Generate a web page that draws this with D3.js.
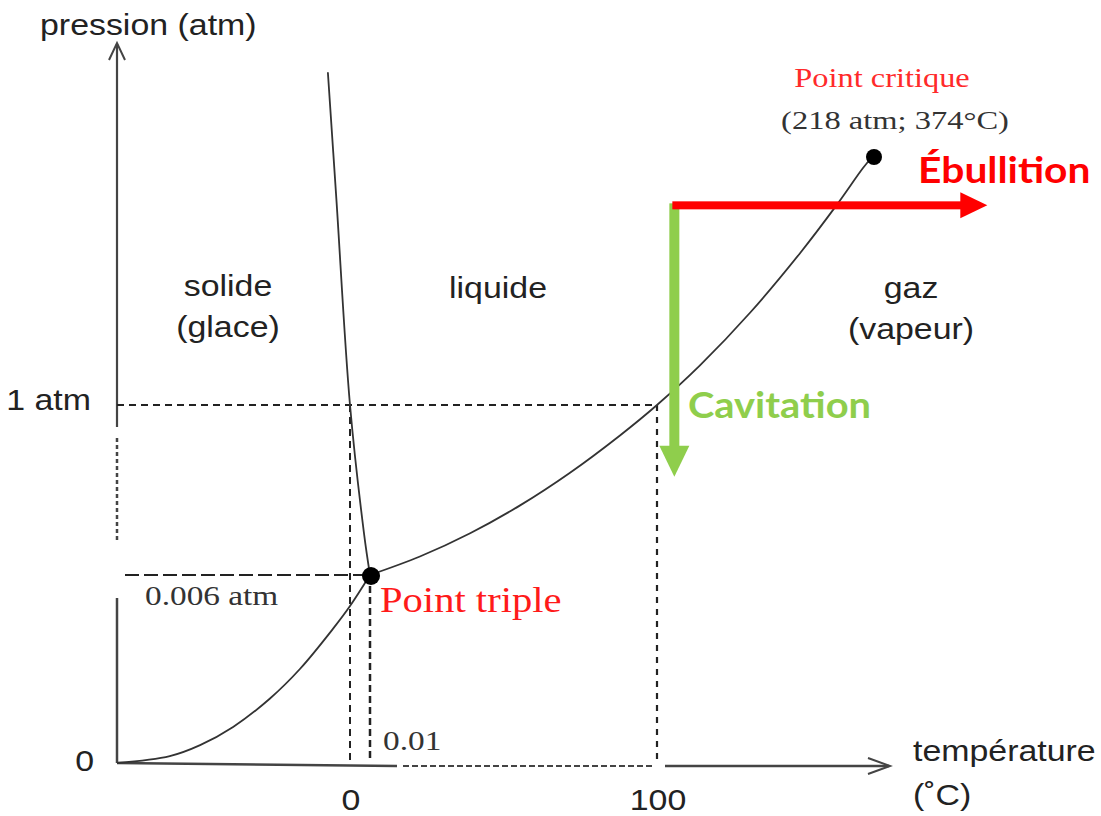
<!DOCTYPE html>
<html>
<head>
<meta charset="utf-8">
<script src="https://cdn.jsdelivr.net/npm/d3@7"></script>
<style>
  html, body { margin: 0; padding: 0; background: #fff; }
  svg { display: block; }
</style>
</head>
<body>
<div id="diagram"></div>
<script>
// Schematic phase diagram of water (axes are not to scale)
const tempBreaks = [-60, 0, 0.01, 100, 374];
const pressBreaks = [0, 0.006, 1, 218];

const xTickValues = [0, 100];
const xTickLabels = ['0', '100'];
const yTickValues = [0, 1];
const yTickLabels = ['0', '1 atm'];

// sublimation curve (solide / gaz)
const sublimationT = [-60, -46.4, -38.6, -30.1, -20.6, -12.9, -4.4, 0, 0.01];
const sublimationP = [0, 0.00022, 0.00057, 0.00115, 0.00206, 0.0030, 0.00428, 0.00501, 0.006];

// fusion curve (solide / liquide)
const fusionT = [-5.7, -3.5, 0, 0.007, 0.01];
const fusionP = [291, 180, 1, 0.25, 0.006];

// vaporisation curve (liquide / gaz)
const vaporT = [0.01, 17.4, 34.9, 52.3, 69.7, 87.1, 100, 154.5, 218, 281.4, 328.3, 361.3, 374];
const vaporP = [0.006, 0.114, 0.25, 0.413, 0.604, 0.822, 1, 35.5, 81.4, 133.3, 175.6, 207.5, 218];

const triplePoint = [0.01, 0.006];
const criticalPoint = [374, 218];

// process arrows
const processT = 122;
const processP = 175;
const ebullitionEndT = 519;
const cavitationEndP = 0.58;

const SANS = '"Liberation Sans", Arial, sans-serif';
const SERIF = '"Liberation Serif", "Times New Roman", serif';
const BOLD = 'Lato, "Open Sans", sans-serif';

// text drawn slightly stretched horizontally, like the source picture
function label (parent, str, x, y, o) {
  return parent.append('text')
    .attr('transform', `translate(${x},${y}) scale(${o.sx || 1},1)`)
    .attr('text-anchor', o.anchor || 'start')
    .attr('font-family', o.family || SANS)
    .attr('font-size', o.size)
    .attr('font-weight', o.weight || null)
    .attr('fill', o.fill || '#222')
    .text(str);
}

function init () {
  var width = 1101;
  var height = 816;

  var x = d3.scaleLinear()
    .domain(tempBreaks)
    .range([117, 350, 370, 657, 873]);

  var y = d3.scaleLinear()
    .domain(pressBreaks)
    .range([763, 575, 405, 156]);

  var svg = d3.select('#diagram').append('svg')
    .attr('width', width)
    .attr('height', height);

  var ink = '#333';
  var x0 = x(tempBreaks[0]);
  var yBase = y(0);

  // --- axes (with breaks) ---
  var axes = svg.append('g')
    .attr('fill', 'none')
    .attr('stroke', '#444');

  axes.append('line')
    .attr('x1', x0).attr('y1', yBase)
    .attr('x2', x0).attr('y2', y(0.006) + 23)
    .attr('stroke-width', 2.5);
  axes.append('line')
    .attr('x1', x0).attr('y1', y(0.006) - 35)
    .attr('x2', x0).attr('y2', y(1) + 30)
    .attr('stroke-width', 2.5)
    .attr('stroke-dasharray', '4,3');
  axes.append('line')
    .attr('x1', x0).attr('y1', y(1) + 22)
    .attr('x2', x0).attr('y2', 44)
    .attr('stroke-width', 2.2);
  axes.append('path')
    .attr('d', `M${x0 - 8},60 L${x0},43 L${x0 + 8},60`)
    .attr('stroke-width', 2);

  axes.append('line')
    .attr('x1', x0).attr('y1', yBase)
    .attr('x2', x(0.01) + 27).attr('y2', yBase + 3)
    .attr('stroke-width', 2.5);
  axes.append('line')
    .attr('x1', x(0.01) + 33).attr('y1', yBase + 3)
    .attr('x2', x(100) - 3).attr('y2', yBase + 3)
    .attr('stroke-width', 2)
    .attr('stroke-dasharray', '6,3');
  axes.append('line')
    .attr('x1', x(100) + 8).attr('y1', yBase + 3)
    .attr('x2', 889).attr('y2', yBase + 3)
    .attr('stroke-width', 2.5);
  axes.append('path')
    .attr('d', `M868,${yBase - 5} L890,${yBase + 3} L868,${yBase + 11}`)
    .attr('stroke-width', 2);

  // --- reference dashed lines ---
  var guides = svg.append('g')
    .attr('fill', 'none')
    .attr('stroke', '#222');

  guides.append('line')
    .attr('x1', x0).attr('y1', y(1))
    .attr('x2', x(100)).attr('y2', y(1))
    .attr('stroke-width', 2)
    .attr('stroke-dasharray', '7,5');
  guides.append('line')
    .attr('x1', x0 + 8).attr('y1', y(0.006))
    .attr('x2', x(0.01)).attr('y2', y(0.006))
    .attr('stroke-width', 2)
    .attr('stroke-dasharray', '14,5');
  guides.append('line')
    .attr('x1', x(0)).attr('y1', y(1))
    .attr('x2', x(0)).attr('y2', yBase - 3)
    .attr('stroke-width', 2)
    .attr('stroke-dasharray', '7,5');
  guides.append('line')
    .attr('x1', x(0.01)).attr('y1', y(0.006))
    .attr('x2', x(0.01)).attr('y2', yBase - 3)
    .attr('stroke-width', 2.5)
    .attr('stroke-dasharray', '7,4');
  guides.append('line')
    .attr('x1', x(100)).attr('y1', y(1))
    .attr('x2', x(100)).attr('y2', yBase - 3)
    .attr('stroke-width', 2.2)
    .attr('stroke-dasharray', '6,6');

  // --- phase boundaries ---
  var line = d3.line()
    .x(d => x(d[0]))
    .y(d => y(d[1]))
    .curve(d3.curveCatmullRom);

  var curves = [
    d3.zip(sublimationT, sublimationP),
    d3.zip(fusionT, fusionP),
    d3.zip(vaporT, vaporP)
  ];

  svg.append('g')
    .selectAll('path')
    .data(curves)
    .enter().append('path')
      .attr('d', line)
      .attr('fill', 'none')
      .attr('stroke', ink)
      .attr('stroke-width', 1.8);

  // --- process arrows ---
  var green = '#8fce4c';
  var red = '#ff0000';
  var px = x(processT);
  var py = y(processP);
  var cy = y(cavitationEndP);
  var ex = x(ebullitionEndT);

  svg.append('rect')
    .attr('x', px - 5).attr('y', py - 2)
    .attr('width', 10).attr('height', cy - 30 - py + 2)
    .attr('fill', green);
  svg.append('path')
    .attr('d', `M${px - 15},${cy - 31} L${px + 15},${cy - 31} L${px},${cy} Z`)
    .attr('fill', green);

  svg.append('rect')
    .attr('x', px - 2).attr('y', py - 4)
    .attr('width', ex - 26 - px + 2).attr('height', 8)
    .attr('fill', red);
  svg.append('path')
    .attr('d', `M${ex - 27},${py - 13} L${ex},${py} L${ex - 27},${py + 13} Z`)
    .attr('fill', red);

  // --- notable points ---
  svg.append('g')
    .selectAll('circle')
    .data([triplePoint, criticalPoint])
    .enter().append('circle')
      .attr('cx', d => x(d[0]) + 1)
      .attr('cy', d => y(d[1]) + 1)
      .attr('r', (d, i) => i === 0 ? 9 : 8)
      .attr('fill', '#000');

  var txt = svg.append('g');
  var sans = {size: 30, sx: 1.13};

  // --- tick labels ---
  xTickValues.forEach((v, i) => {
    label(txt, xTickLabels[i], x(v) + 1, yBase + 47, Object.assign({anchor: 'middle'}, sans));
  });
  yTickValues.forEach((v, i) => {
    label(txt, yTickLabels[i], i === 0 ? x0 - 23 : x0 - 26, y(v) + (i === 0 ? 8 : 5),
      Object.assign({anchor: 'end'}, sans));
  });

  // axis titles
  label(txt, 'pression (atm)', 40, 35, sans);
  label(txt, 'température', 913, 761, sans);
  label(txt, '(˚C)', 913, 805, sans);

  // special values
  label(txt, '0.006 atm', 145, 605, {family: SERIF, size: 28, sx: 1.19, fill: '#333'});
  label(txt, '0.01', 383, 750, {family: SERIF, size: 28, sx: 1.19, fill: '#333'});

  // phase names
  var phases = [
    {lines: ['solide', '(glace)'], cx: 228, top: 296},
    {lines: ['liquide'], cx: 498, top: 298},
    {lines: ['gaz', '(vapeur)'], cx: 911, top: 298}
  ];
  phases.forEach(p => {
    p.lines.forEach((s, i) => {
      label(txt, s, p.cx, p.top + i * 41, Object.assign({anchor: 'middle'}, sans));
    });
  });

  // point labels
  label(txt, 'Point triple', x(triplePoint[0]) + 10, 612,
    {family: SERIF, size: 35, sx: 1.16, fill: '#ff1a1a'});
  label(txt, 'Point critique', 882, 87,
    {family: SERIF, size: 27, sx: 1.2, anchor: 'middle', fill: '#ff2a2a'});
  label(txt, '(218 atm; 374°C)', 895, 129,
    {family: SERIF, size: 25, sx: 1.3, anchor: 'middle', fill: '#333'});

  // process labels
  label(txt, 'Ébullition', 918, 183, {family: BOLD, weight: 'bold', size: 37, sx: 1.1, fill: red});
  label(txt, 'Cavitation', 688, 418, {family: BOLD, weight: 'bold', size: 37, sx: 1.077, fill: green});
}

init();
</script>
</body>
</html>
